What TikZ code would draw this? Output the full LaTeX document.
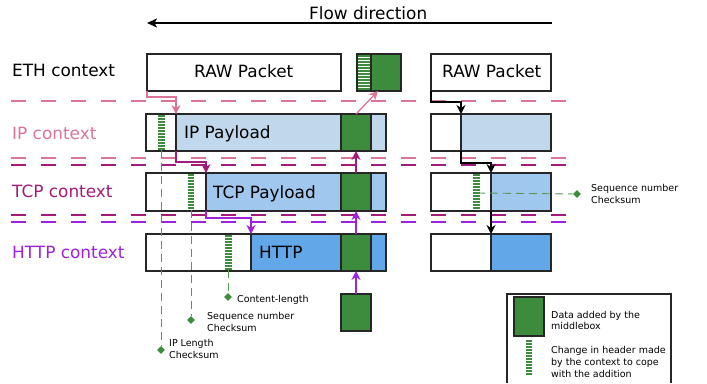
\documentclass[tikz,border=0pt]{standalone}
\usepackage{fontspec}
\setmainfont{DejaVu Sans}
\usetikzlibrary{arrows.meta,shapes.geometric}
\definecolor{ipc}{RGB}{221,116,152}
\definecolor{tcpc}{RGB}{163,26,122}
\definecolor{httpc}{RGB}{160,32,224}
\definecolor{ipblue}{RGB}{193,216,236}
\definecolor{tcpblue}{RGB}{160,200,238}
\definecolor{httpblue}{RGB}{98,168,232}
\definecolor{mbgreen}{RGB}{61,139,61}
\definecolor{annot}{RGB}{84,152,84}
\newcommand{\hstripes}[4]{\foreach \yy in {0,3,...,#4}{\draw[stripe] (#1,#3+\yy) -- (#2,#3+\yy);}}
\begin{document}
\begin{tikzpicture}[x=1pt,y=-1pt,
  box/.style={draw=black!85, line width=1.3pt, inner sep=0pt, outer sep=0pt, anchor=north west},
  gbox/.style={box, fill=mbgreen},
  big/.style={font=\fontsize{16.9}{20}\selectfont, inner sep=0pt, anchor=base west},
  small/.style={font=\fontsize{9.5}{12}\selectfont, inner sep=0pt, anchor=base west},
  sep/.style={dash pattern=on 15pt off 15pt, line width=1.3pt},
  tip/.style={line width=1.3pt, -{Stealth[length=9pt,width=9pt,inset=3pt]}},
  ann/.style={draw=annot, dash pattern=on 8pt off 5pt, line width=0.9pt},
  stripe/.style={draw=mbgreen, line width=1.3pt},
  dia/.style={diamond, fill=mbgreen, inner sep=0pt, minimum size=8pt}]
\useasboundingbox (0,0) rectangle (707,383);

% flow direction
\coordinate (fa) at (552,23);
\coordinate (fb) at (147,23);
\draw[line width=1.4pt, -{Stealth[length=10pt,width=9pt,inset=2.5pt]}] (fa) -- (fb);
\node[big] (flow) at (309,19) {Flow direction};

% context labels
\node[big] (leth) at (12,76) {ETH context};
\node[big, text=ipc] (lip) at (12,139) {IP context};
\node[big, text=tcpc] (ltcp) at (12,197) {TCP context};
\node[big, text=httpc] (lhttp) at (12,258) {HTTP context};

% ETH row
\node[box, minimum width=194pt, minimum height=37pt] (raw) at (147,54) {};
\node[big] (rawt) at (194,77) {RAW Packet};
\hstripes{357}{371}{56}{33}
\node[box, minimum width=14pt, minimum height=37pt] (eths) at (357,54) {};
\node[gbox, minimum width=30pt, minimum height=37pt] (ethg) at (371,54) {};

% IP row
\node[box, fill=white, minimum width=30pt, minimum height=37pt] (iph) at (146,114) {};
\node[box, fill=ipblue, minimum width=210pt, minimum height=37pt] (ipp) at (176,114) {};
\node[gbox, minimum width=30pt, minimum height=37pt] (ipg) at (341,114) {};
\node[big] (ipt) at (184,138) {IP Payload};
\hstripes{158}{165}{116}{33}

% TCP row
\node[box, fill=white, minimum width=60pt, minimum height=38pt] (tcph) at (146,173) {};
\node[box, fill=tcpblue, minimum width=180pt, minimum height=38pt] (tcpp) at (206,173) {};
\node[gbox, minimum width=30pt, minimum height=38pt] (tcpg) at (341,173) {};
\node[big] (tcpt) at (213,198) {TCP Payload};
\hstripes{188}{194}{175}{34}

% HTTP row
\node[box, fill=white, minimum width=105pt, minimum height=37pt] (httph) at (146,234) {};
\node[box, fill=httpblue, minimum width=135pt, minimum height=37pt] (httpp) at (251,234) {};
\node[gbox, minimum width=30pt, minimum height=37pt] (httpg) at (341,234) {};
\node[big] (httpt) at (259,258) {HTTP};
\hstripes{225}{232}{236}{33}

% bottom green
\node[gbox, minimum width=30pt, minimum height=37pt] (bg) at (341,294) {};

% right column
\node[box, minimum width=120pt, minimum height=37pt] (rraw) at (431,54) {};
\node[big] (rrawt) at (442,77) {RAW Packet};
\node[box, fill=white, minimum width=30pt, minimum height=37pt] (riph) at (431,114) {};
\node[box, fill=ipblue, minimum width=90pt, minimum height=37pt] (ripp) at (461,114) {};
\node[box, fill=white, minimum width=60pt, minimum height=38pt] (rtcph) at (431,173) {};
\node[box, fill=tcpblue, minimum width=60pt, minimum height=38pt] (rtcpp) at (491,173) {};
\hstripes{473}{480}{175}{34}
\node[box, fill=white, minimum width=60pt, minimum height=37pt] (rhttph) at (431,234) {};
\node[box, fill=httpblue, minimum width=60pt, minimum height=37pt] (rhttpp) at (491,234) {};

% separators
\draw[sep, ipc] (11,101) -- (566,101);
\draw[sep, ipc] (11,158) -- (566,158);
\draw[sep, tcpc] (11,165) -- (566,165);
\draw[sep, tcpc] (11,215) -- (566,215);
\draw[sep, httpc] (11,222) -- (566,222);

% elbow arrows (left)
\coordinate (e1) at (176,97);
\coordinate (e2) at (206,162);
\coordinate (e3) at (251,218);
\draw[tip, ipc] (raw.south west) |- (e1) -- (ipp.north west);
\draw[tip, tcpc] (ipp.south west) |- (e2) -- (tcpp.north west);
\draw[tip, httpc] (tcpp.south west) |- (e3) -- (httpp.north west);

% elbow arrows (right)
\coordinate (r1) at (461,102);
\coordinate (r2) at (491,163);
\draw[tip, black] (rraw.south west) |- (r1) -- (ripp.north west);
\draw[tip, black] (ripp.south west) |- (r2) -- (rtcpp.north west);
\draw[tip, black] (rtcpp.south west) -- (rhttpp.north west);

% green data arrows
\coordinate (ethtgt) at (378,91);
\draw[tip, httpc] (bg.north) -- (httpg.south);
\draw[tip, httpc] (httpg.north) -- (tcpg.south);
\draw[tip, tcpc] (tcpg.north) -- (ipg.south);
\draw[tip, ipc] (ipg.north) -- (ethtgt);

% annotations
\coordinate (s1) at (161,150);
\coordinate (s2) at (191,210);
\coordinate (s3) at (228,270);
\coordinate (s4) at (477,193);
\node[dia] (d1) at (161,350) {};
\node[dia] (d2) at (191,320) {};
\node[dia] (d3) at (228,297) {};
\node[dia] (d4) at (577,194) {};
\draw[ann] (s1) -- (d1);
\draw[ann] (s2) -- (d2);
\draw[ann] (s3) -- (d3);
\draw[ann] (s4) -- (d4);
\node[small] (a1a) at (169,346) {IP Length};
\node[small] (a1b) at (169,358) {Checksum};
\node[small] (a2a) at (207,319) {Sequence number};
\node[small] (a2b) at (207,331) {Checksum};
\node[small] (a3) at (237,302) {Content-length};
\node[small] (a4a) at (591,191) {Sequence number};
\node[small] (a4b) at (591,203) {Checksum};

% legend
\coordinate (lg1) at (507,383);
\coordinate (lg2) at (507,294);
\coordinate (lg3) at (671,294);
\coordinate (lg4) at (671,383);
\draw[line width=1.3pt, black!85] (lg1) -- (lg2) -- (lg3) -- (lg4);
\node[gbox, minimum width=30pt, minimum height=39pt] (lgg) at (514,297) {};
\hstripes{526}{532}{341}{34}
\node[small] (lt1) at (551,318) {Data added by the};
\node[small] (lt2) at (551,329) {middlebox};
\node[small] (lt3) at (551,353) {Change in header made};
\node[small] (lt4) at (551,365) {by the context to cope};
\node[small] (lt5) at (551,377) {with the addition};
\end{tikzpicture}
\end{document}
